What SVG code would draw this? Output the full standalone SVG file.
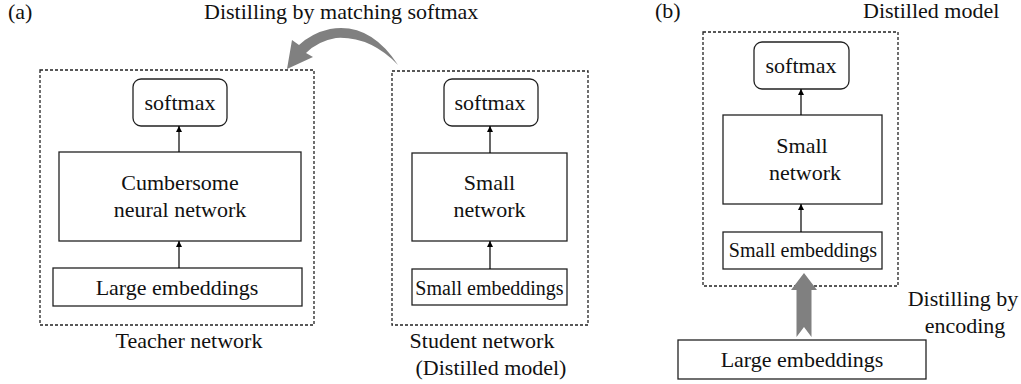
<svg xmlns="http://www.w3.org/2000/svg" width="1021" height="384" viewBox="0 0 1021 384">
<style>
text{font-family:'Liberation Serif','Times New Roman',Times,'DejaVu Serif',serif;font-size:22px;fill:#111}
.sm{font-size:20px}
.box{fill:#fff;stroke:#222;stroke-width:1.3}
.dot{fill:none;stroke:#222;stroke-width:1.3;stroke-dasharray:3 2}
.conn{stroke:#000;stroke-width:1.2;fill:none;marker-end:url(#ah)}
.gray{fill:#808080;stroke:none}
</style>
<defs>
<marker id="ah" viewBox="0 0 10 10" refX="10" refY="5" markerWidth="6" markerHeight="7" markerUnits="userSpaceOnUse" orient="auto">
<path d="M0,0 L10,5 L0,10 z" fill="#000"/>
</marker>
</defs>
<g font-family="Liberation Serif, DejaVu Serif, serif">
<text x="8" y="19">(a)</text>
<text x="204" y="19">Distilling by matching softmax</text>
<text x="655" y="18">(b)</text>
<text x="863" y="18">Distilled model</text>

<g id="teacher">
<rect class="dot" x="40" y="70" width="274" height="255"/>
<text x="189" y="348" text-anchor="middle">Teacher network</text>
</g>
<g id="t-softmax"><rect class="box" x="133" y="79" width="94" height="47" rx="8"/><text x="180" y="110" text-anchor="middle">softmax</text></g>
<g id="t-net"><rect class="box" x="59" y="152" width="242" height="89"/><text x="180" y="190" text-anchor="middle">Cumbersome</text><text x="180" y="217" text-anchor="middle">neural network</text></g>
<g id="t-emb"><rect class="box" x="53" y="268" width="249" height="38"/><text x="177" y="295" text-anchor="middle">Large embeddings</text></g>

<g id="student">
<rect class="dot" x="392" y="71" width="196" height="254"/>
<text x="482" y="348" text-anchor="middle">Student network</text>
<text x="491" y="375" text-anchor="middle">(Distilled model)</text>
</g>
<g id="s-softmax"><rect class="box" x="444" y="79" width="94" height="47" rx="8"/><text x="490" y="110" text-anchor="middle">softmax</text></g>
<g id="s-net"><rect class="box" x="412" y="153" width="155" height="88"/><text x="489.5" y="190" text-anchor="middle">Small</text><text x="489.5" y="217" text-anchor="middle">network</text></g>
<g id="s-emb"><rect class="box" x="412" y="269" width="155" height="36"/><text class="sm" x="489.5" y="295" text-anchor="middle">Small embeddings</text></g>

<g id="distilled">
<rect class="dot" x="703" y="32" width="195" height="254"/>
</g>
<g id="d-softmax"><rect class="box" x="754" y="42" width="95" height="47" rx="8"/><text x="801" y="73" text-anchor="middle">softmax</text></g>
<g id="d-net"><rect class="box" x="723" y="115" width="159" height="89"/><text x="802" y="153" text-anchor="middle">Small</text><text x="805" y="179.5" text-anchor="middle">network</text></g>
<g id="d-emb"><rect class="box" x="723" y="232" width="159" height="37"/><text class="sm" x="803" y="257" text-anchor="middle">Small embeddings</text></g>
<g id="d-large"><rect class="box" x="678" y="340" width="248" height="39"/><text x="802" y="367" text-anchor="middle">Large embeddings</text></g>
<g id="enc-label"><text x="963" y="306" text-anchor="middle">Distilling by</text><text x="965" y="333" text-anchor="middle">encoding</text></g>
</g>
<g id="connectors">
<line class="conn" x1="179" y1="152" x2="179" y2="126"/>
<line class="conn" x1="179" y1="268" x2="179" y2="241"/>
<line class="conn" x1="490" y1="153" x2="490" y2="126"/>
<line class="conn" x1="490" y1="269" x2="490" y2="241"/>
<line class="conn" x1="801" y1="115" x2="801" y2="89"/>
<line class="conn" x1="801" y1="232" x2="801" y2="204"/>
<path class="gray" d="M398,65 Q370,22 330,29 Q312,33 299,45 L292,40 L287,69 L313,57 L306,53 Q318,41 336,38 Q370,36 398,65 z"/>
<path class="gray" d="M804,273 L817,290 L811.5,290 L811.5,337 L804,327 L796.5,337 L796.5,290 L791,290 z"/>
</g>
</svg>
